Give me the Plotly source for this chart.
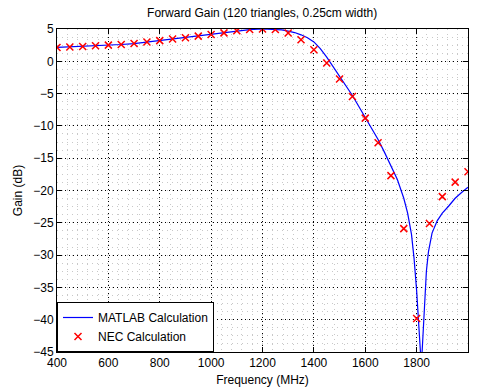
import plotly.graph_objects as go

# NEC calculation (markers every 50 MHz)
nec_freq = [400, 450, 500, 550, 600, 650, 700, 750, 800, 850, 900, 950, 1000,
            1050, 1100, 1150, 1200, 1250, 1300, 1350, 1400, 1450, 1500, 1550,
            1600, 1650, 1700, 1750, 1800, 1850, 1900, 1950, 2000]
nec_gain = [2.15, 2.22, 2.3, 2.4, 2.5, 2.6, 2.75, 3.0, 3.2, 3.45, 3.65, 3.9, 4.15,
            4.4, 4.72, 4.92, 5.0, 4.92, 4.38, 3.34, 1.79, -0.27, -2.75, -5.45,
            -8.8, -12.6, -17.7, -25.9, -39.8, -25.1, -20.95, -18.7, -17.1]

# MATLAB calculation
mat_freq = [400, 450, 500, 550, 600, 650, 700, 750, 800, 850, 900, 950, 1000,
            1050, 1100, 1150, 1200, 1250, 1275, 1300, 1325, 1350, 1375, 1400, 1425, 1450,
            1475, 1500, 1525, 1550, 1575, 1600, 1625, 1650, 1675, 1700, 1725,
            1750, 1765, 1780, 1790, 1800, 1808, 1814, 1818, 1822, 1826, 1832,
            1838, 1846, 1860, 1880, 1900, 1925, 1950, 1975, 2000]
mat_gain = [2.15, 2.22, 2.3, 2.4, 2.5, 2.6, 2.75, 3.0, 3.2, 3.45, 3.65, 3.9, 4.15,
            4.4, 4.7, 4.9, 5.0, 4.95, 4.85, 4.68, 4.45, 4.1, 3.65, 3.0, 1.95, 0.65,
            -0.8, -2.2, -3.8, -5.3, -7.0, -8.7, -10.4, -12.1, -14.1, -16.1, -18.3,
            -21.2, -23.5, -26.8, -30.5, -35.5, -41.0, -45.0, -47.0, -44.5, -41.5, -36.5,
            -32.5, -29.5, -26.6, -24.7, -23.5, -22.4, -21.2, -20.3, -19.5]

x_ticks = [400, 600, 800, 1000, 1200, 1400, 1600, 1800, 2000]
y_ticks = [5, 0, -5, -10, -15, -20, -25, -30, -35, -40, -45]

font = "Liberation Sans, Arial, sans-serif"
fs = 12

fig = go.Figure()
fig.add_trace(go.Scatter(x=mat_freq, y=mat_gain, mode="lines",
                         name="MATLAB Calculation",
                         line=dict(color="#0000ff", width=1.2)))
fig.add_trace(go.Scatter(x=nec_freq, y=nec_gain, mode="markers",
                         name="NEC Calculation",
                         marker=dict(symbol="x-thin", size=7,
                                     line=dict(color="#ff0000", width=1.5),
                                     color="#ff0000")))

axis_common = dict(showline=True, linecolor="black", linewidth=1, mirror="ticks",
                   ticks="inside", ticklen=5, tickcolor="black", automargin=False,
                   showgrid=True, gridcolor="black", griddash="1px,3px", gridwidth=1,
                   zeroline=False, tickfont=dict(family=font, size=fs, color="black"))

fig.update_xaxes(range=[400, 2000], tickvals=x_ticks,
                 title=dict(text="Frequency (MHz)", font=dict(family=font, size=fs, color="black"),
                            standoff=6),
                 minor=dict(dtick=40, tick0=400, showgrid=True, gridcolor="#c8c8c8",
                            griddash="1px,4px", gridwidth=1),
                 **axis_common)
fig.update_yaxes(range=[-45, 5], tickvals=y_ticks,
                 title=dict(text="Gain (dB)", font=dict(family=font, size=fs, color="black"),
                            standoff=8),
                 minor=dict(dtick=1.25, tick0=0, showgrid=True, gridcolor="#c8c8c8",
                            griddash="1px,4px", gridwidth=1),
                 **axis_common)

fig.update_layout(
    width=481, height=392,
    margin=dict(l=57, r=13, t=29, b=40),
    paper_bgcolor="white", plot_bgcolor="white",
    title=dict(text="Forward Gain (120 triangles, 0.25cm width)",
               font=dict(family=font, size=fs, color="black"),
               x=0.545, xanchor="center", y=0.967, yanchor="middle"),
    legend=dict(x=0, y=0, xanchor="left", yanchor="bottom",
                bgcolor="white", bordercolor="black", borderwidth=1,
                font=dict(family=font, size=fs, color="black"),
                tracegroupgap=0, itemwidth=30),
    showlegend=True,
)

fig.write_html("out.html")
